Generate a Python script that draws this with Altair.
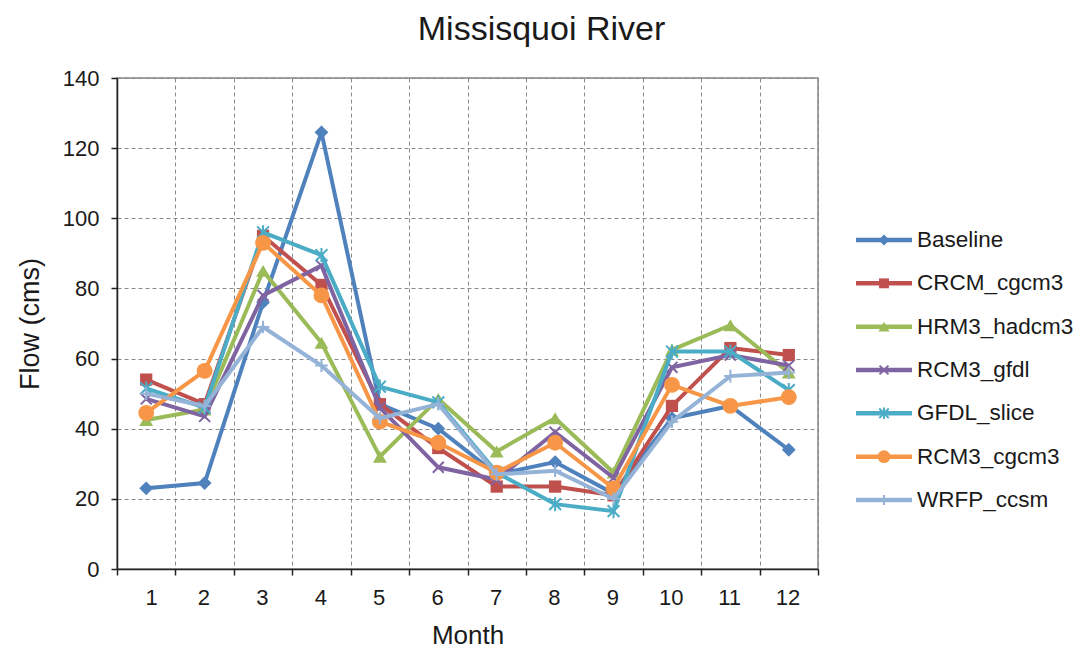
import altair as alt
import pandas as pd

months = list(range(1, 13))
series_names = ["Baseline", "CRCM_cgcm3", "HRM3_hadcm3", "RCM3_gfdl",
                "GFDL_slice", "RCM3_cgcm3", "WRFP_ccsm"]
baseline = [23, 24.5, 76, 124.5, 47, 40, 27, 30.5, 21.5, 43, 46.5, 34]
crcm_cgcm3 = [54, 47, 95, 81, 47, 34.5, 23.5, 23.5, 21, 46.5, 63, 61]
hrm3_hadcm3 = [42.5, 45.5, 85, 64.5, 32, 48.5, 33.5, 43, 27.5, 62.5, 69.5, 56]
rcm3_gfdl = [48.5, 43.5, 78, 86.5, 46, 29, 25.5, 39, 26, 57.5, 61, 58]
gfdl_slice = [51.5, 46, 96, 89.5, 52, 47.5, 27.5, 18.5, 16.5, 62, 62, 51]
rcm3_cgcm3 = [44.5, 56.5, 93, 78, 42, 36, 27.5, 36, 23, 52.5, 46.5, 49]
wrfp_ccsm = [50, 46.5, 69, 58, 43, 47, 27, 28, 20, 42, 55, 56]
y_ticks = [0, 20, 40, 60, 80, 100, 120, 140]

colors = ["#4F81BD", "#C0504D", "#9BBB59", "#8064A2", "#4BACC6", "#F79646", "#95B3D7"]

series_values = [baseline, crcm_cgcm3, hrm3_hadcm3, rcm3_gfdl, gfdl_slice, rcm3_cgcm3, wrfp_ccsm]
rows = []
for name, vals in zip(series_names, series_values):
    for m, v in zip(months, vals):
        rows.append({"Month": m, "Flow": v, "series": name})
df = pd.DataFrame(rows)
legend_df = pd.DataFrame({"series": series_names})

FONT = "Liberation Sans"
TXT = "#1a1a1a"

# marker styles per series: (shape, filled, size)
X_PATH = "M-1,-1L1,1M-1,1L1,-1"
AST_PATH = "M-1,-1L1,1M-1,1L1,-1M0,-1.2L0,1.2"
PLUS_PATH = "M-1,0L1,0M0,-1L0,1"
markers = {
    "Baseline": ("diamond", True, 190),
    "CRCM_cgcm3": ("square", True, 150),
    "HRM3_hadcm3": ("triangle-up", True, 190),
    "RCM3_gfdl": (X_PATH, False, 120),
    "GFDL_slice": (AST_PATH, False, 140),
    "RCM3_cgcm3": ("circle", True, 250),
    "WRFP_ccsm": (PLUS_PATH, False, 160),
}

color_scale = alt.Scale(domain=series_names, range=colors)

x_enc = alt.X(
    "Month:Q",
    scale=alt.Scale(domain=[0.5, 12.5], nice=False, zero=False),
    axis=alt.Axis(
        values=[m - 0.5 for m in months] + [12.5],
        labelExpr="datum.value > 12 ? '' : format(datum.value + 0.5, 'd')",
        labelOffset=28,
        title="Month",
        grid=True,
        tickSize=6,
        labelPadding=12,
        titlePadding=14,
        titleFontSize=26,
    ),
)
y_enc = alt.Y(
    "Flow:Q",
    scale=alt.Scale(domain=[0, 140], nice=False),
    axis=alt.Axis(values=y_ticks, title="Flow (cms)", grid=True,
                  tickSize=6, labelPadding=12, titlePadding=18),
)
color_enc = alt.Color("series:N", scale=color_scale, legend=None)

data_layers = []
for name in series_names:
    shape, filled, size = markers[name]
    base = alt.Chart(df).transform_filter(alt.datum.series == name)
    line = base.mark_line(strokeWidth=4).encode(x=x_enc, y=y_enc, color=color_enc)
    if filled:
        pts = base.mark_point(shape=shape, filled=True, size=size, opacity=1).encode(
            x=x_enc, y=y_enc, color=color_enc)
    else:
        pts = base.mark_point(shape=shape, filled=False, size=size, strokeWidth=2, opacity=1).encode(
            x=x_enc, y=y_enc, color=color_enc)
    data_layers += [line, pts]

main = alt.layer(*data_layers)

leg_y = alt.Y("series:N", scale=alt.Scale(type="point", domain=series_names,
                                          range=[162, 422], padding=0), axis=None)
legend_layers = []
for name in series_names:
    shape, filled, size = markers[name]
    lb = alt.Chart(legend_df).transform_filter(alt.datum.series == name)
    legend_layers.append(lb.mark_rule(strokeWidth=4.5).encode(
        x=alt.value(739), x2=alt.value(795), y=leg_y, color=color_enc))
    if filled:
        legend_layers.append(lb.mark_point(shape=shape, filled=True, size=size * 0.65, opacity=1).encode(
            x=alt.value(767), y=leg_y, color=color_enc))
    else:
        legend_layers.append(lb.mark_point(shape=shape, filled=False, size=size * 0.65,
                                           strokeWidth=2, opacity=1).encode(
            x=alt.value(767), y=leg_y, color=color_enc))
    legend_layers.append(lb.mark_text(align="left", baseline="middle", font=FONT,
                                      fontSize=22.5, color=TXT).encode(
        x=alt.value(800), y=leg_y, text="series:N"))

legend = alt.layer(*legend_layers)

chart = alt.layer(main, legend).resolve_scale(y="independent").properties(
    width=701,
    height=491,
    title=alt.TitleParams("Missisquoi River", font=FONT, fontSize=34, fontWeight="normal",
                          color=TXT, anchor="middle", dx=74, offset=20),
    autosize=alt.AutoSizeParams(type="none"),
    padding={"left": 109, "top": 70, "right": 263, "bottom": 79},
).configure_view(
    stroke="#868686", strokeWidth=1.5
).configure_axis(
    labelFont=FONT, titleFont=FONT, labelFontSize=22, titleFontSize=27,
    titleFontWeight="normal", labelColor=TXT, titleColor=TXT,
    domainColor="#222222", domainWidth=1.5, tickColor="#222222", tickWidth=1.5,
    gridColor="#8a8a8a", gridDash=[4, 3], gridWidth=1,
)

chart.save("out.html", embed_options={"renderer": "svg", "actions": False})
